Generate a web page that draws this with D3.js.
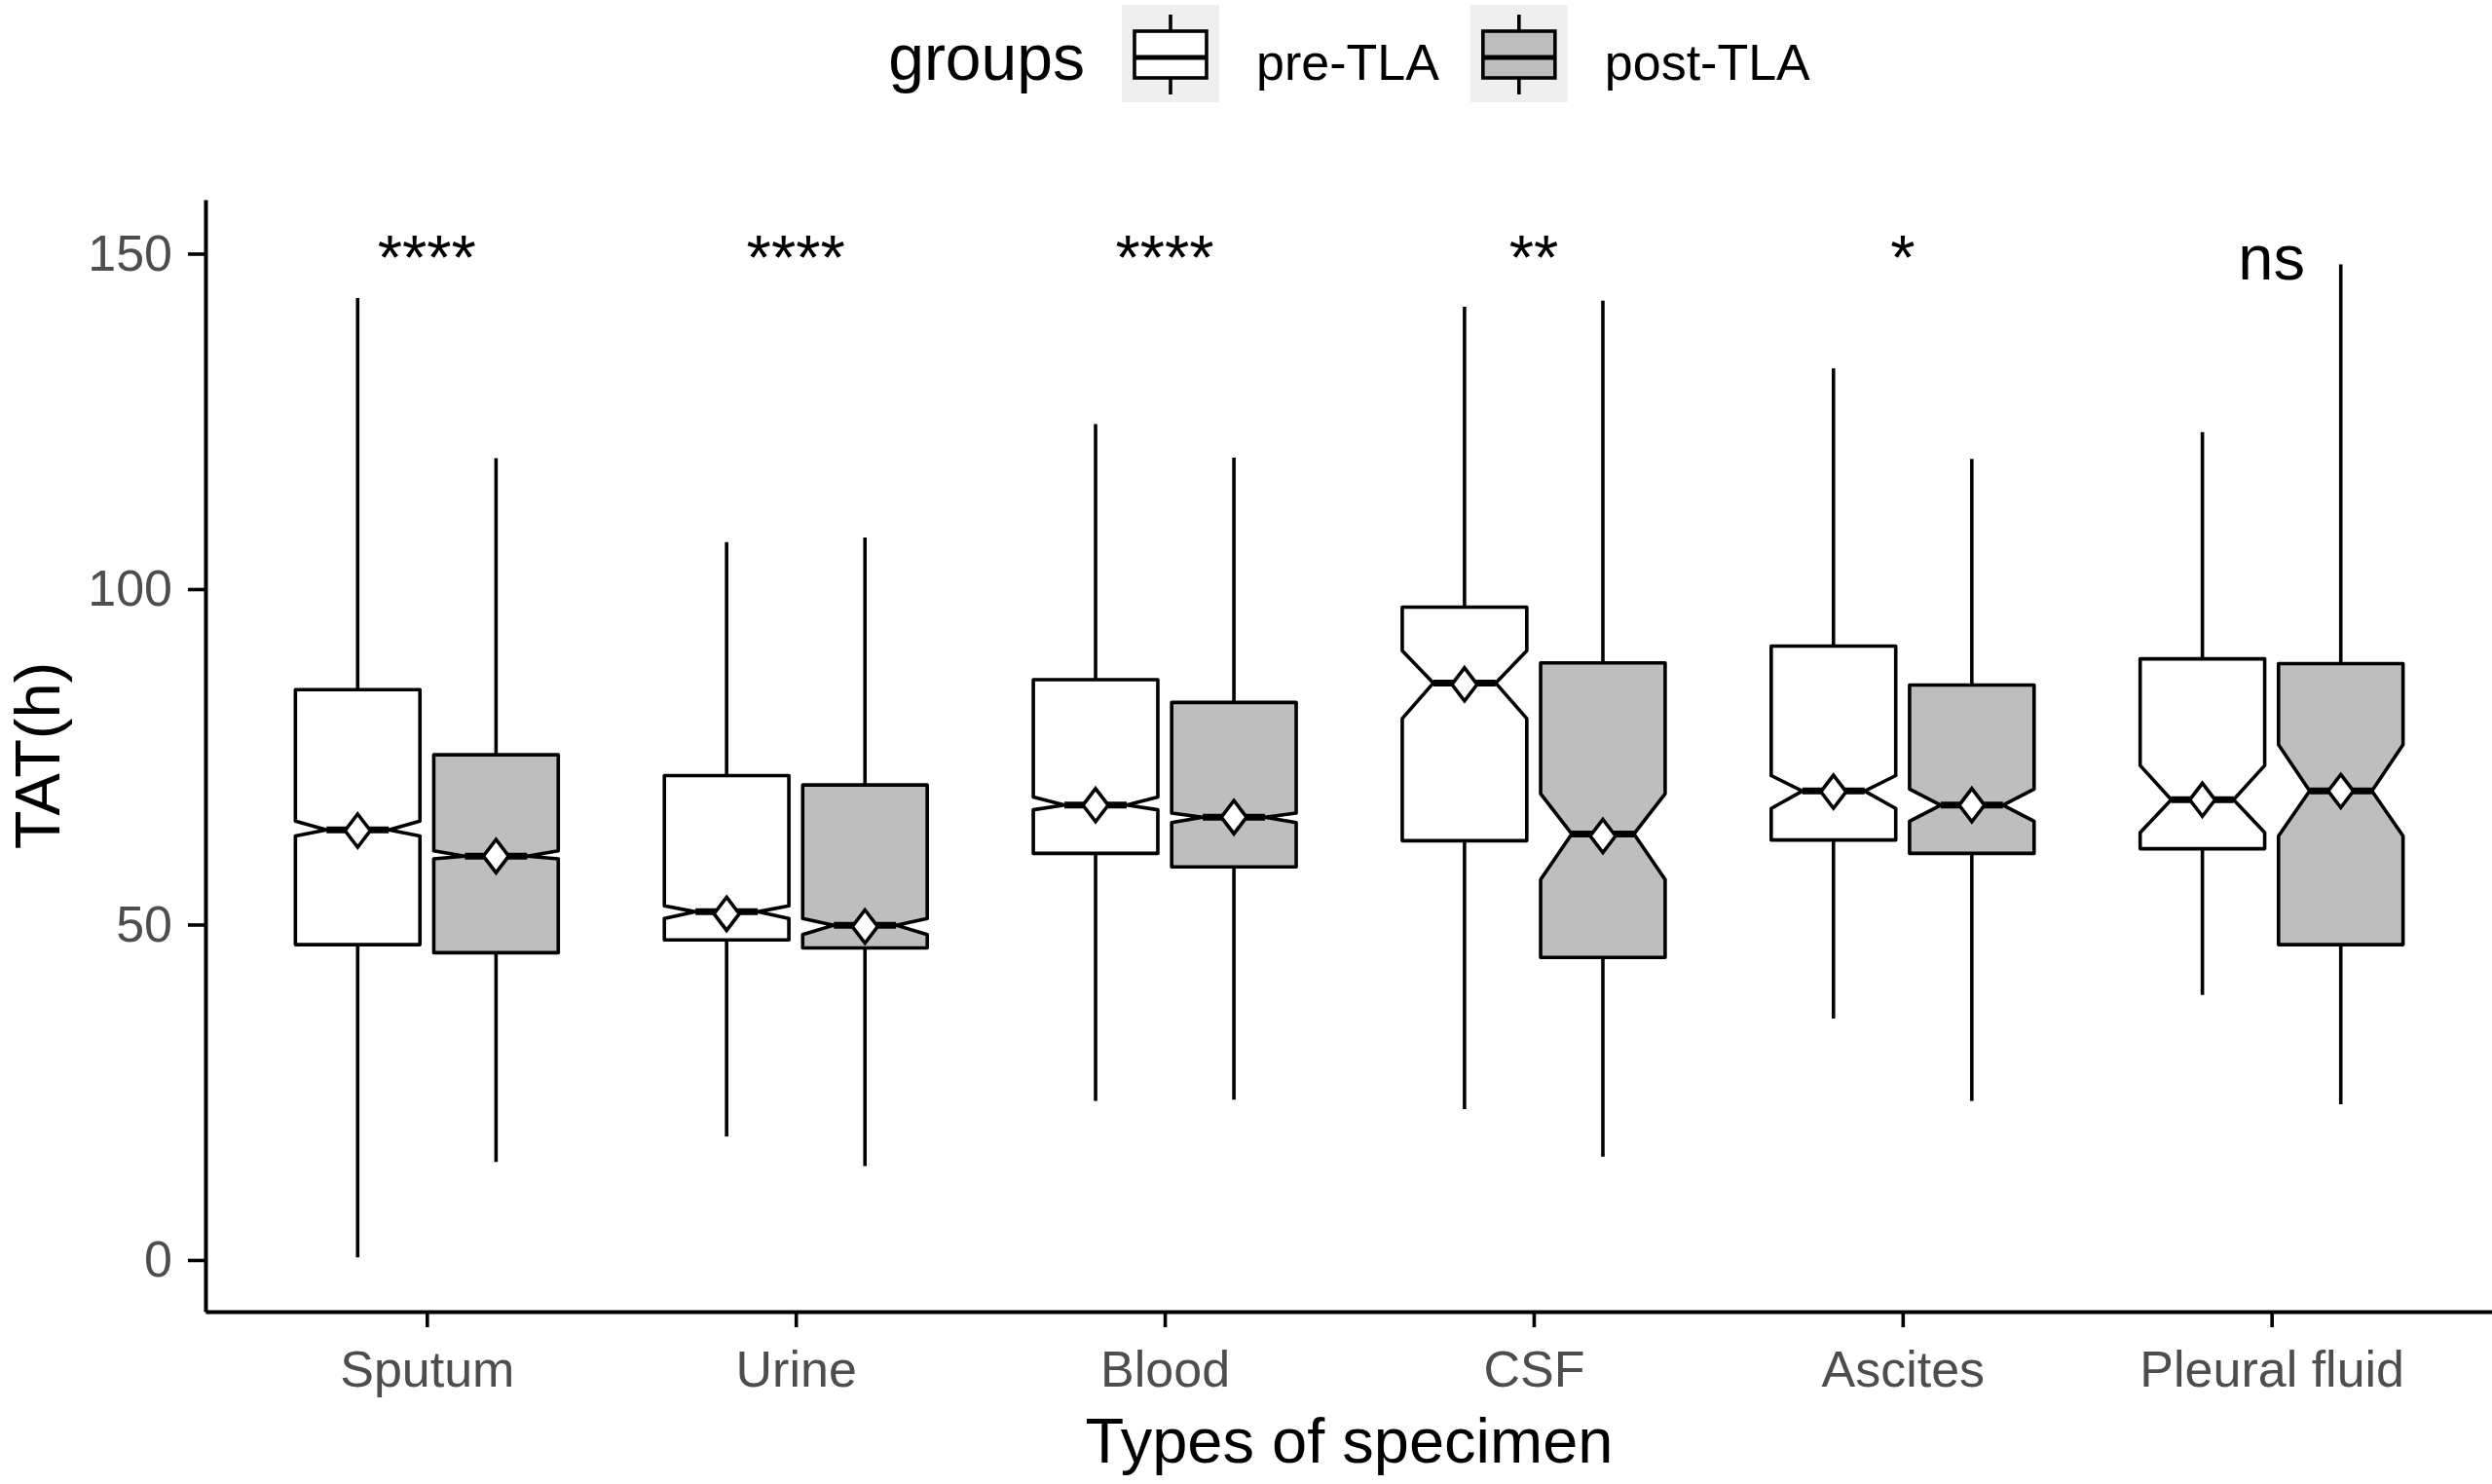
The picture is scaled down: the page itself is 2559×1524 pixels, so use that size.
<!DOCTYPE html>
<html>
<head>
<meta charset="utf-8">
<script src="https://cdn.jsdelivr.net/npm/d3@7"></script>
<style>
  body { margin: 0; background: #fff; }
  text { font-family: "Liberation Sans", Arial, sans-serif; }
</style>
</head>
<body>
<script>
// data
const specimens = ["Sputum", "Urine", "Blood", "CSF", "Ascites", "Pleural fluid"];
const groups = ["pre-TLA", "post-TLA"];

// pre-TLA
const preWhiskerLow = [0.4, 18.4, 23.7, 22.5, 36.0, 39.5];
const preQ1 = [47.0, 47.7, 60.6, 62.5, 62.6, 61.3];
const preNotchLow = [63.2, 50.9, 67.1, 80.7, 67.3, 63.7];
const preMedian = [64.1, 51.9, 67.8, 86.0, 69.9, 68.6];
const preNotchHigh = [65.4, 52.8, 69.0, 90.8, 72.2, 73.7];
const preQ3 = [85.0, 72.2, 86.5, 97.3, 91.5, 89.6];
const preWhiskerHigh = [143.4, 107.0, 124.6, 142.1, 132.9, 123.4];
const preMean = [64.0, 51.6, 67.8, 85.8, 69.8, 68.6];

// post-TLA
const postWhiskerLow = [14.6, 14.0, 23.9, 15.4, 23.7, 23.2];
const postQ1 = [45.8, 46.5, 58.6, 45.1, 60.6, 47.0];
const postNotchLow = [59.8, 48.5, 65.2, 56.7, 65.4, 63.2];
const postMedian = [60.2, 49.9, 66.0, 63.5, 67.8, 69.9];
const postNotchHigh = [61.0, 50.9, 66.6, 69.5, 70.2, 76.8];
const postQ3 = [75.3, 70.8, 83.1, 89.0, 85.7, 88.9];
const postWhiskerHigh = [119.5, 107.7, 119.6, 143.0, 119.4, 148.4];
const postMean = [60.2, 49.7, 66.0, 63.2, 67.8, 69.9];

const signifLabels = ["****", "****", "****", "**", "*", "ns"];
const signifY = 150;
const yTicks = [0, 50, 100, 150];

const groupFill = { "pre-TLA": "#ffffff", "post-TLA": "#bebebe" };

// build box table
const boxes = [];
specimens.forEach((s, i) => {
    boxes.push({
        specimen: s, group: "pre-TLA",
        lo: preWhiskerLow[i], q1: preQ1[i], nl: preNotchLow[i], med: preMedian[i],
        nh: preNotchHigh[i], q3: preQ3[i], hi: preWhiskerHigh[i], mean: preMean[i]
    });
    boxes.push({
        specimen: s, group: "post-TLA",
        lo: postWhiskerLow[i], q1: postQ1[i], nl: postNotchLow[i], med: postMedian[i],
        nh: postNotchHigh[i], q3: postQ3[i], hi: postWhiskerHigh[i], mean: postMean[i]
    });
});

const width = 2559, height = 1524;
const margin = { top: 205, right: 0, bottom: 177, left: 211 };
const lw = 3.6;

const svg = d3.select("body").append("svg")
    .attr("width", width)
    .attr("height", height);

const x = d3.scalePoint()
    .domain(specimens)
    .range([margin.left, 2560])
    .padding(0.6);
const y = d3.scaleLinear()
    .domain([-7.7, 158.05])
    .range([height - margin.bottom, margin.top]);

const step = x.step();
const dodge = d3.scaleOrdinal().domain(groups).range([-0.1875 * step, 0.1875 * step]);
const boxW = 0.3375 * step;

// axes
const yAxis = svg.append("g")
    .attr("transform", `translate(${margin.left},0)`)
    .call(d3.axisLeft(y).tickValues(yTicks).tickSize(18).tickSizeOuter(0).tickPadding(16));
const xAxis = svg.append("g")
    .attr("transform", `translate(0,${height - margin.bottom})`)
    .call(d3.axisBottom(x).tickSize(16).tickSizeOuter(0).tickPadding(24));
[yAxis, xAxis].forEach((a) => {
    a.select(".domain").attr("stroke", "#000").attr("stroke-width", 4);
    a.selectAll(".tick line").attr("stroke", "#000").attr("stroke-width", lw);
    a.selectAll(".tick text")
        .attr("fill", "#4d4d4d")
        .style("font-size", "52px")
        .style("font-family", "'Liberation Sans', Arial, sans-serif");
});

// whiskers
const bx = svg.append("g");
bx.selectAll("line.whi")
    .data(boxes)
    .join("line")
    .attr("class", "whi")
    .attr("x1", (d) => x(d.specimen) + dodge(d.group))
    .attr("x2", (d) => x(d.specimen) + dodge(d.group))
    .attr("y1", (d) => y(d.hi))
    .attr("y2", (d) => y(d.q3))
    .attr("stroke", "#000")
    .attr("stroke-width", lw);
bx.selectAll("line.wlo")
    .data(boxes)
    .join("line")
    .attr("class", "wlo")
    .attr("x1", (d) => x(d.specimen) + dodge(d.group))
    .attr("x2", (d) => x(d.specimen) + dodge(d.group))
    .attr("y1", (d) => y(d.q1))
    .attr("y2", (d) => y(d.lo))
    .attr("stroke", "#000")
    .attr("stroke-width", lw);

// notched boxes
function notchPath(d) {
    const cx = x(d.specimen) + dodge(d.group);
    const x0 = cx - boxW / 2, x1 = cx + boxW / 2, ind = boxW * 0.25;
    const p = d3.path();
    p.moveTo(x0, y(d.q3));
    p.lineTo(x1, y(d.q3));
    p.lineTo(x1, y(d.nh));
    p.lineTo(x1 - ind, y(d.med));
    p.lineTo(x1, y(d.nl));
    p.lineTo(x1, y(d.q1));
    p.lineTo(x0, y(d.q1));
    p.lineTo(x0, y(d.nl));
    p.lineTo(x0 + ind, y(d.med));
    p.lineTo(x0, y(d.nh));
    p.closePath();
    return p.toString();
}
bx.selectAll("path.box")
    .data(boxes)
    .join("path")
    .attr("class", "box")
    .attr("d", notchPath)
    .attr("fill", (d) => groupFill[d.group])
    .attr("stroke", "#000")
    .attr("stroke-width", lw)
    .attr("stroke-linejoin", "round");
bx.selectAll("line.med")
    .data(boxes)
    .join("line")
    .attr("class", "med")
    .attr("x1", (d) => x(d.specimen) + dodge(d.group) - boxW / 4)
    .attr("x2", (d) => x(d.specimen) + dodge(d.group) + boxW / 4)
    .attr("y1", (d) => y(d.med))
    .attr("y2", (d) => y(d.med))
    .attr("stroke", "#000")
    .attr("stroke-width", 7);

// mean diamonds
bx.selectAll("path.mean")
    .data(boxes)
    .join("path")
    .attr("class", "mean")
    .attr("d", (d) => {
        const cx = x(d.specimen) + dodge(d.group), cy = y(d.mean);
        return `M${cx},${cy - 17}L${cx + 13},${cy}L${cx},${cy + 17}L${cx - 13},${cy}Z`;
    })
    .attr("fill", "#fff")
    .attr("stroke", "#000")
    .attr("stroke-width", lw);

// significance labels
svg.append("g")
    .selectAll("text")
    .data(specimens)
    .join("text")
    .attr("x", (d) => x(d))
    .attr("y", y(signifY) + 27)
    .attr("text-anchor", "middle")
    .style("font-size", "65px")
    .attr("fill", "#000")
    .text((d, i) => signifLabels[i]);

// axis titles
svg.append("text")
    .attr("x", (margin.left + 2560) / 2)
    .attr("y", 1502)
    .attr("text-anchor", "middle")
    .style("font-size", "65px")
    .text("Types of specimen");
svg.append("text")
    .attr("transform", `translate(61,${(margin.top + height - margin.bottom) / 2}) rotate(-90)`)
    .attr("text-anchor", "middle")
    .style("font-size", "65px")
    .text("TAT(h)");

// legend
const legend = svg.append("g");
const legTitle = legend.append("text")
    .attr("x", 0)
    .attr("y", 82)
    .style("font-size", "66px")
    .text("groups");
let lx = legTitle.node().getComputedTextLength() + 38;
groups.forEach((g) => {
    const key = legend.append("g").attr("transform", `translate(${lx},5)`);
    key.append("rect").attr("width", 100).attr("height", 100).attr("fill", "#efefef");
    key.append("line").attr("x1", 50).attr("x2", 50).attr("y1", 10).attr("y2", 27)
        .attr("stroke", "#000").attr("stroke-width", lw);
    key.append("line").attr("x1", 50).attr("x2", 50).attr("y1", 75).attr("y2", 92)
        .attr("stroke", "#000").attr("stroke-width", lw);
    key.append("rect").attr("x", 13).attr("y", 27).attr("width", 74).attr("height", 48)
        .attr("fill", groupFill[g]).attr("stroke", "#000").attr("stroke-width", lw);
    key.append("line").attr("x1", 13).attr("x2", 87).attr("y1", 54).attr("y2", 54)
        .attr("stroke", "#000").attr("stroke-width", 5);
    lx += 100 + 38;
    const t = legend.append("text")
        .attr("x", lx)
        .attr("y", 82)
        .style("font-size", "52px")
        .text(g);
    lx += t.node().getComputedTextLength() + 32;
});
const legW = lx - 32;
legend.attr("transform", `translate(${(margin.left + 2560) / 2 - legW / 2},0)`);
</script>
</body>
</html>
